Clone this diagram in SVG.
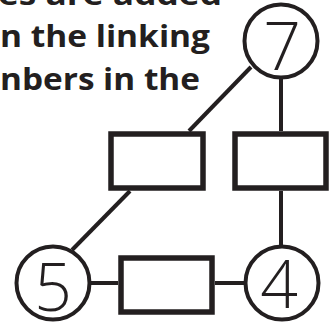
<svg xmlns="http://www.w3.org/2000/svg" width="336" height="322" viewBox="0 0 336 322">
<style>
.t{font-family:"Open Sans","DejaVu Sans",sans-serif;font-weight:700;font-size:30px;fill:#231f20}
.c{fill:#fff;stroke:#231f20;stroke-width:4}
.r{fill:#fff;stroke:#231f20;stroke-width:5.5}
.d{font-family:"Open Sans","Liberation Sans",sans-serif;font-weight:300;font-size:66px;fill:#231f20;text-anchor:middle}
.e{stroke:#231f20;stroke-width:4;fill:none}
</style>
<rect width="336" height="322" fill="#fff"/>
<g id="caption">
<text class="t" x="-2" y="5" textLength="224" lengthAdjust="spacingAndGlyphs">es are added</text>
<text class="t" x="0" y="47" textLength="210" lengthAdjust="spacingAndGlyphs">n the linking</text>
<text class="t" x="0" y="90" textLength="200" lengthAdjust="spacingAndGlyphs">nbers in the</text>
</g>
<g id="connectors">
<line class="e" x1="251" y1="67" x2="189" y2="131"/>
<line class="e" x1="130" y1="191" x2="72" y2="250"/>
<line class="e" x1="281" y1="79" x2="281" y2="131"/>
<line class="e" x1="281" y1="191" x2="281" y2="246"/>
<line class="e" x1="91" y1="283" x2="118" y2="283"/>
<line class="e" x1="215" y1="283" x2="245" y2="283"/>
</g>
<g id="n7"><circle class="c" cx="281" cy="41" r="36.5"/><text class="d" x="282" y="70">7</text></g>
<g id="n5"><circle class="c" cx="53" cy="283" r="36.5"/><text class="d" x="53" y="311">5</text></g>
<g id="n4"><circle class="c" cx="282" cy="283" r="36.5"/><text class="d" x="279" y="308">4</text></g>
<g id="box1"><rect class="r" x="111" y="134" width="92" height="54"/></g>
<g id="box2"><rect class="r" x="235" y="134" width="91" height="54"/></g>
<g id="box3"><rect class="r" x="121" y="258" width="91" height="54"/></g>
</svg>
